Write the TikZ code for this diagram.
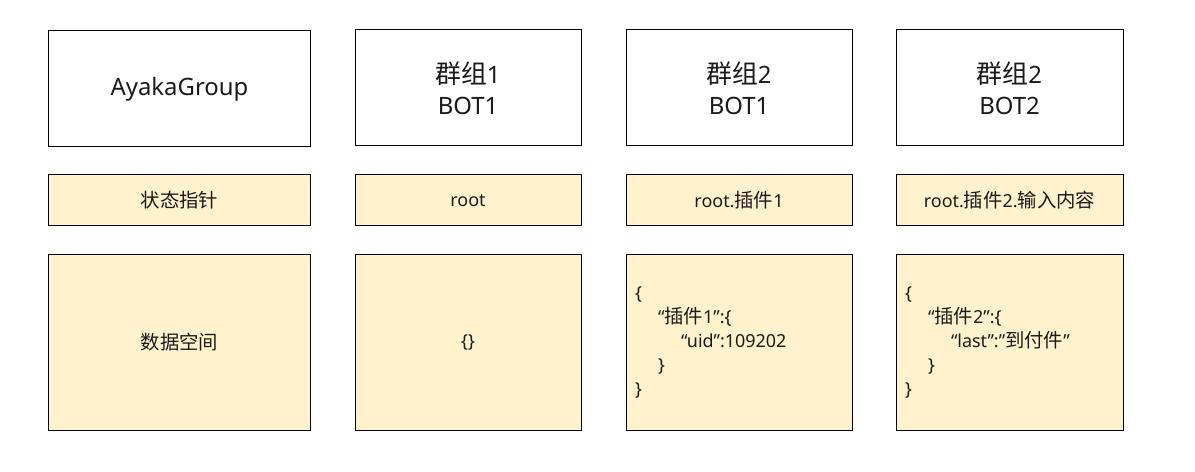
\documentclass[tikz,border=0pt]{standalone}
\usepackage{fontspec}
\setmainfont{Noto Sans}
\newfontfamily\zhfont[Scale=1.08]{Noto Sans CJK SC}
\newcommand{\zh}[1]{{\zhfont #1}}
\definecolor{notefill}{HTML}{FFF2CC}
\definecolor{txtgray}{HTML}{1A1A1A}
\tikzset{
    titlebox/.style={draw=black, line width=1bp, minimum height=116bp, align=center, text=txtgray, font=\fontsize{24}{31}\selectfont},
    ptrbox/.style={draw=black, line width=1bp, fill=notefill, minimum height=51bp, text=txtgray, font=\fontsize{18}{24}\selectfont},
    databox/.style={draw=black, line width=1bp, fill=notefill, minimum height=176bp, text=txtgray, font=\fontsize{18}{24}\selectfont},
    jsonbox/.style={databox, align=left, inner xsep=9bp, text width=#1}
}
\newcommand{\ind}{\hspace*{23bp}}
\begin{document}
\begin{tikzpicture}[x=1bp,y=-1bp]
		\useasboundingbox (0,0) rectangle (1195,472);

		% groups and bots
		\node[titlebox, minimum width=261bp] (ayaka) at (179.5,89) {AyakaGroup};
		\node[titlebox, minimum width=226bp] (g1_b1) at (468,88) {\zh{群组}1\\BOT1};
		\node[titlebox, minimum width=226bp] (g2_b1) at (739,88) {\zh{群组}2\\BOT1};
		\node[titlebox, minimum width=227bp] (g2_b2) at (1009.5,88) {\zh{群组}2\\BOT2};

		% state pointers
		\node[ptrbox, minimum width=261bp] (ptr_ayaka) at (179.5,200.5) {\zh{状态指针}};
		\node[ptrbox, minimum width=226bp] (ptr_g1_b1) at (468,200.5) {root};
		\node[ptrbox, minimum width=226bp] (ptr_g2_b1) at (739,200.5) {root.\zh{插件}1};
		\node[ptrbox, minimum width=227bp] (ptr_g2_b2) at (1009.5,200.5) {root.\zh{插件}2.\zh{输入内容}};

		% data spaces
		\node[databox, minimum width=261bp] (data_ayaka) at (179.5,342.5) {\zh{数据空间}};
		\node[databox, minimum width=226bp] (data_g1_b1) at (468,342.5) {\{\}};
		\node[jsonbox=208bp] (data_g2_b1) at (739,342.5) {\{\\
			\ind “\zh{插件}1”:\{\\
			\ind\ind “uid”:109202\\
			\ind\}\\
			\}};
		\node[jsonbox=209bp] (data_g2_b2) at (1009.5,342.5) {\{\\
			\ind “\zh{插件}2”:\{\\
			\ind\ind “last”:”\zh{到付件}”\\
			\ind\}\\
			\}};

	\end{tikzpicture}
\end{document}
